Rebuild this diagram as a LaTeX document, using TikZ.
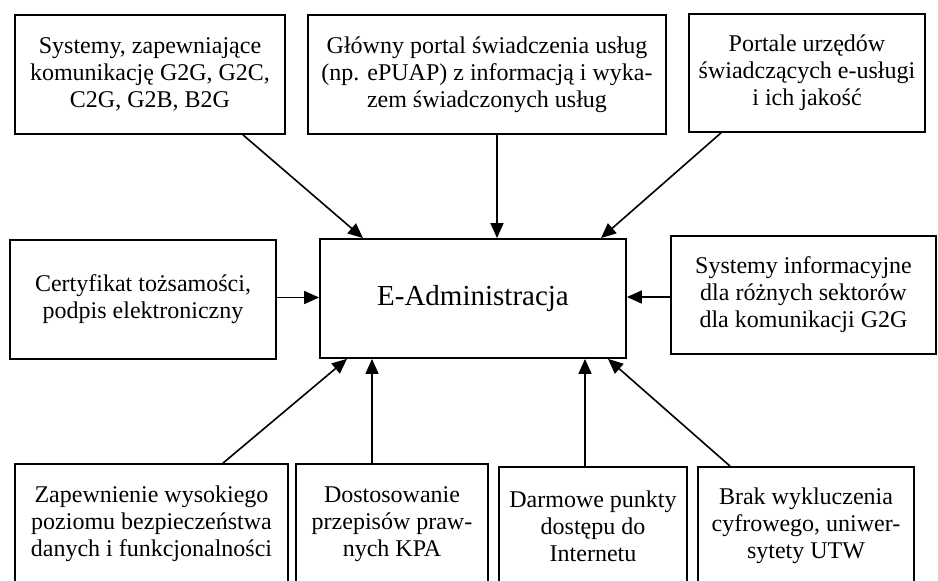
\documentclass[tikz,border=0pt]{standalone}
\usepackage{fontspec}
\setmainfont{Liberation Serif}
\usetikzlibrary{arrows.meta,positioning}
\tikzset{box/.style={draw,line width=1.8pt,align=center,inner sep=0pt,font=\fontsize{24}{27}\selectfont},
  feed/.style={-{Triangle[length=15pt,width=13pt]},line width=1.6pt}}

\begin{document}
\begin{tikzpicture}[x=1pt,y=-1pt]
\useasboundingbox (0,0) rectangle (938,581);\clip (0,0) rectangle (938,581);
\node[box,minimum width=270,minimum height=119] (sys) at (150,74.5){Systemy, zapewniające\\komunikację G2G, G2C,\\C2G, G2B, B2G};
\node[box,minimum width=358,minimum height=119] (portal) at (487,74.5){Główny portal świadczenia usług\\(np. ePUAP) z informacją i wyka-\\zem świadczonych usług};
\node[box,minimum width=236,minimum height=118] (urzedy) at (807,73){Portale urzędów\\świadczących e-usługi\\i ich jakość};
\node[box,minimum width=266,minimum height=119] (cert) at (143,299.5){Certyfikat tożsamości,\\podpis elektroniczny};
\node[box,minimum width=306,minimum height=119,font=\fontsize{29}{34}\selectfont] (adm) at (473,298.5){E-Administracja};
\node[box,minimum width=265,minimum height=118] (sektory) at (803.5,295){Systemy informacyjne\\dla różnych sektorów\\dla komunikacji G2G};
\node[box,minimum width=273,minimum height=120] (bezp) at (151.5,524){Zapewnienie wysokiego\\poziomu bezpieczeństwa\\danych i funkcjonalności};
\node[box,minimum width=192,minimum height=120] (kpa) at (392,524){Dostosowanie\\przepisów praw-\\nych KPA};
\node[box,minimum width=188,minimum height=118] (punkty) at (593,526){Darmowe punkty\\dostępu do\\Internetu};
\node[box,minimum width=216,minimum height=118] (utw) at (806,526){Brak wykluczenia\\cyfrowego, uniwer-\\sytety UTW};
% arrows into the centre box
\draw[feed] ([xshift=93pt]sys.south)--([xshift=-110pt]adm.north);
\draw[feed] ([xshift=10pt]portal.south)--([xshift=24pt]adm.north);
\draw[feed] ([xshift=-86pt]urzedy.south)--([xshift=128pt]adm.north);
\draw[feed] ([yshift=2pt]cert.east)--([yshift=2pt]cert.east-|adm.west);
\draw[feed] ([yshift=-2pt]sektory.west)--([yshift=-2pt]sektory.west-|adm.east);
\draw[feed] ([xshift=71.5pt]bezp.north)--([xshift=-126pt]adm.south);
\draw[feed] ([xshift=-20pt]kpa.north)--([xshift=-101pt]adm.south);
\draw[feed] ([xshift=-8pt]punkty.north)--([xshift=112pt]adm.south);
\draw[feed] ([xshift=-76pt]utw.north)--([xshift=135pt]adm.south);
\end{tikzpicture}
\end{document}
